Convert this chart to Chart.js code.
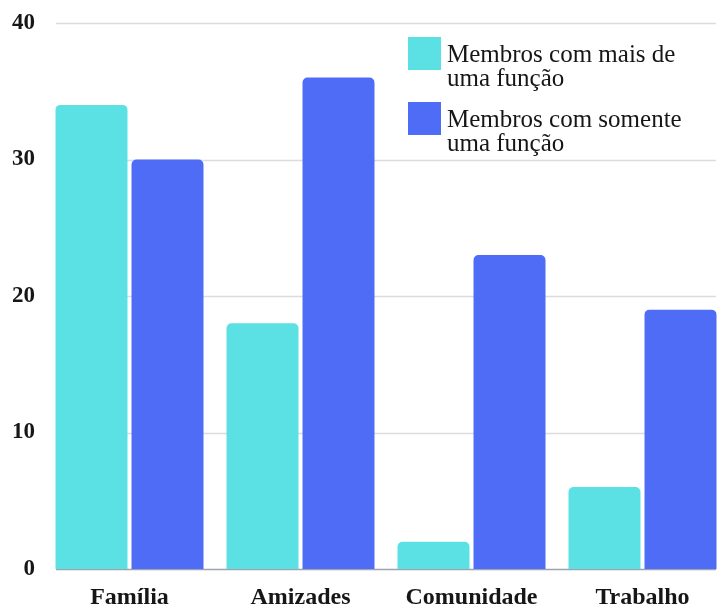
<!DOCTYPE html>
<html lang="pt">
<head>
<meta charset="utf-8">
<title>Membros por tipo de relação</title>
<script src="https://cdn.jsdelivr.net/npm/chart.js@4"></script>
<style>
  html, body { margin: 0; padding: 0; background: #fff; overflow: hidden; }
  #wrap { position: relative; width: 740px; height: 610px; }
</style>
</head>
<body>
<div id="wrap"><canvas id="chart"></canvas></div>
<script>
const categories = ["Família", "Amizades", "Comunidade", "Trabalho"];
const seriesNames = ["Membros com mais de uma função", "Membros com somente uma função"];
const maisDeUma = [34, 18, 2, 6];
const somenteUma = [30, 36, 23, 19];
const yTicks = [0, 10, 20, 30, 40];

const SERIF = "'Liberation Serif', 'Times New Roman', serif";
const CYAN = "#5be0e3";
const BLUE = "#4e6cf6";

// horizontal guide lines, a bit inset from the left edge, plus the darker zero line
const guideLines = {
  id: "guide-lines",
  beforeDatasetsDraw(chart) {
    const { ctx, chartArea, scales } = chart;
    const x0 = chartArea.left + 12;
    const x1 = chartArea.right - 12;
    ctx.save();
    yTicks.forEach((v) => {
      const y = Math.round(scales.y.getPixelForValue(v)) + 0.5;
      ctx.beginPath();
      ctx.strokeStyle = v === 0 ? "#9ea3b3" : "#dcdcdc";
      ctx.lineWidth = 1.5;
      ctx.moveTo(x0, y);
      ctx.lineTo(x1, y);
      ctx.stroke();
    });
    ctx.restore();
  },
};

function wrapText(ctx, text, maxWidth) {
  const words = text.split(" ");
  const lines = [];
  let line = "";
  words.forEach((w) => {
    const next = line ? line + " " + w : w;
    if (line && ctx.measureText(next).width > maxWidth) {
      lines.push(line);
      line = w;
    } else {
      line = next;
    }
  });
  if (line) lines.push(line);
  return lines;
}

// legend with wrapped labels in the top-right corner of the plot
const wrappedLegend = {
  id: "wrapped-legend",
  afterDatasetsDraw(chart) {
    const { ctx, chartArea } = chart;
    const left = chartArea.right - 320;
    let top = chartArea.top + 14;
    ctx.save();
    ctx.font = `25px ${SERIF}`;
    ctx.textBaseline = "alphabetic";
    ctx.textAlign = "left";
    chart.data.datasets.forEach((ds) => {
      ctx.fillStyle = ds.backgroundColor;
      ctx.fillRect(left, top, 33, 33);
      ctx.fillStyle = "#161616";
      const lines = wrapText(ctx, ds.label, 250);
      lines.forEach((ln, i) => {
        ctx.fillText(ln, left + 39, top + 25 + i * 24);
      });
      top += 65;
    });
    ctx.restore();
  },
};

new Chart(document.getElementById("chart"), {
  type: "bar",
  data: {
    labels: categories,
    datasets: [
      {
        label: seriesNames[0],
        data: maisDeUma,
        backgroundColor: CYAN,
        borderRadius: { topLeft: 5, topRight: 5 },
        borderSkipped: "bottom",
      },
      {
        label: seriesNames[1],
        data: somenteUma,
        backgroundColor: BLUE,
        borderRadius: { topLeft: 5, topRight: 5 },
        borderSkipped: "bottom",
      },
    ],
  },
  options: {
    responsive: true,
    maintainAspectRatio: false,
    animation: false,
    layout: { padding: { top: 23, right: 12, bottom: 0, left: 0 } },
    categoryPercentage: 0.889,
    barPercentage: 0.947,
    plugins: {
      legend: { display: false },
      tooltip: { enabled: false },
    },
    scales: {
      x: {
        grid: { display: false, drawTicks: false },
        border: { display: false },
        ticks: {
          color: "#161616",
          padding: 14,
          font: { family: SERIF, size: 24, weight: "bold" },
        },
        afterFit(scale) { scale.height = 41; },
      },
      y: {
        min: 0,
        max: 40,
        afterBuildTicks(scale) { scale.ticks = yTicks.map((v) => ({ value: v })); },
        grid: { display: false, drawTicks: false },
        border: { display: false },
        ticks: {
          color: "#161616",
          padding: 9,
          font: { family: SERIF, size: 23, weight: "bold" },
        },
        afterFit(scale) { scale.width = 44; },
      },
    },
  },
  plugins: [guideLines, wrappedLegend],
});
</script>
</body>
</html>
